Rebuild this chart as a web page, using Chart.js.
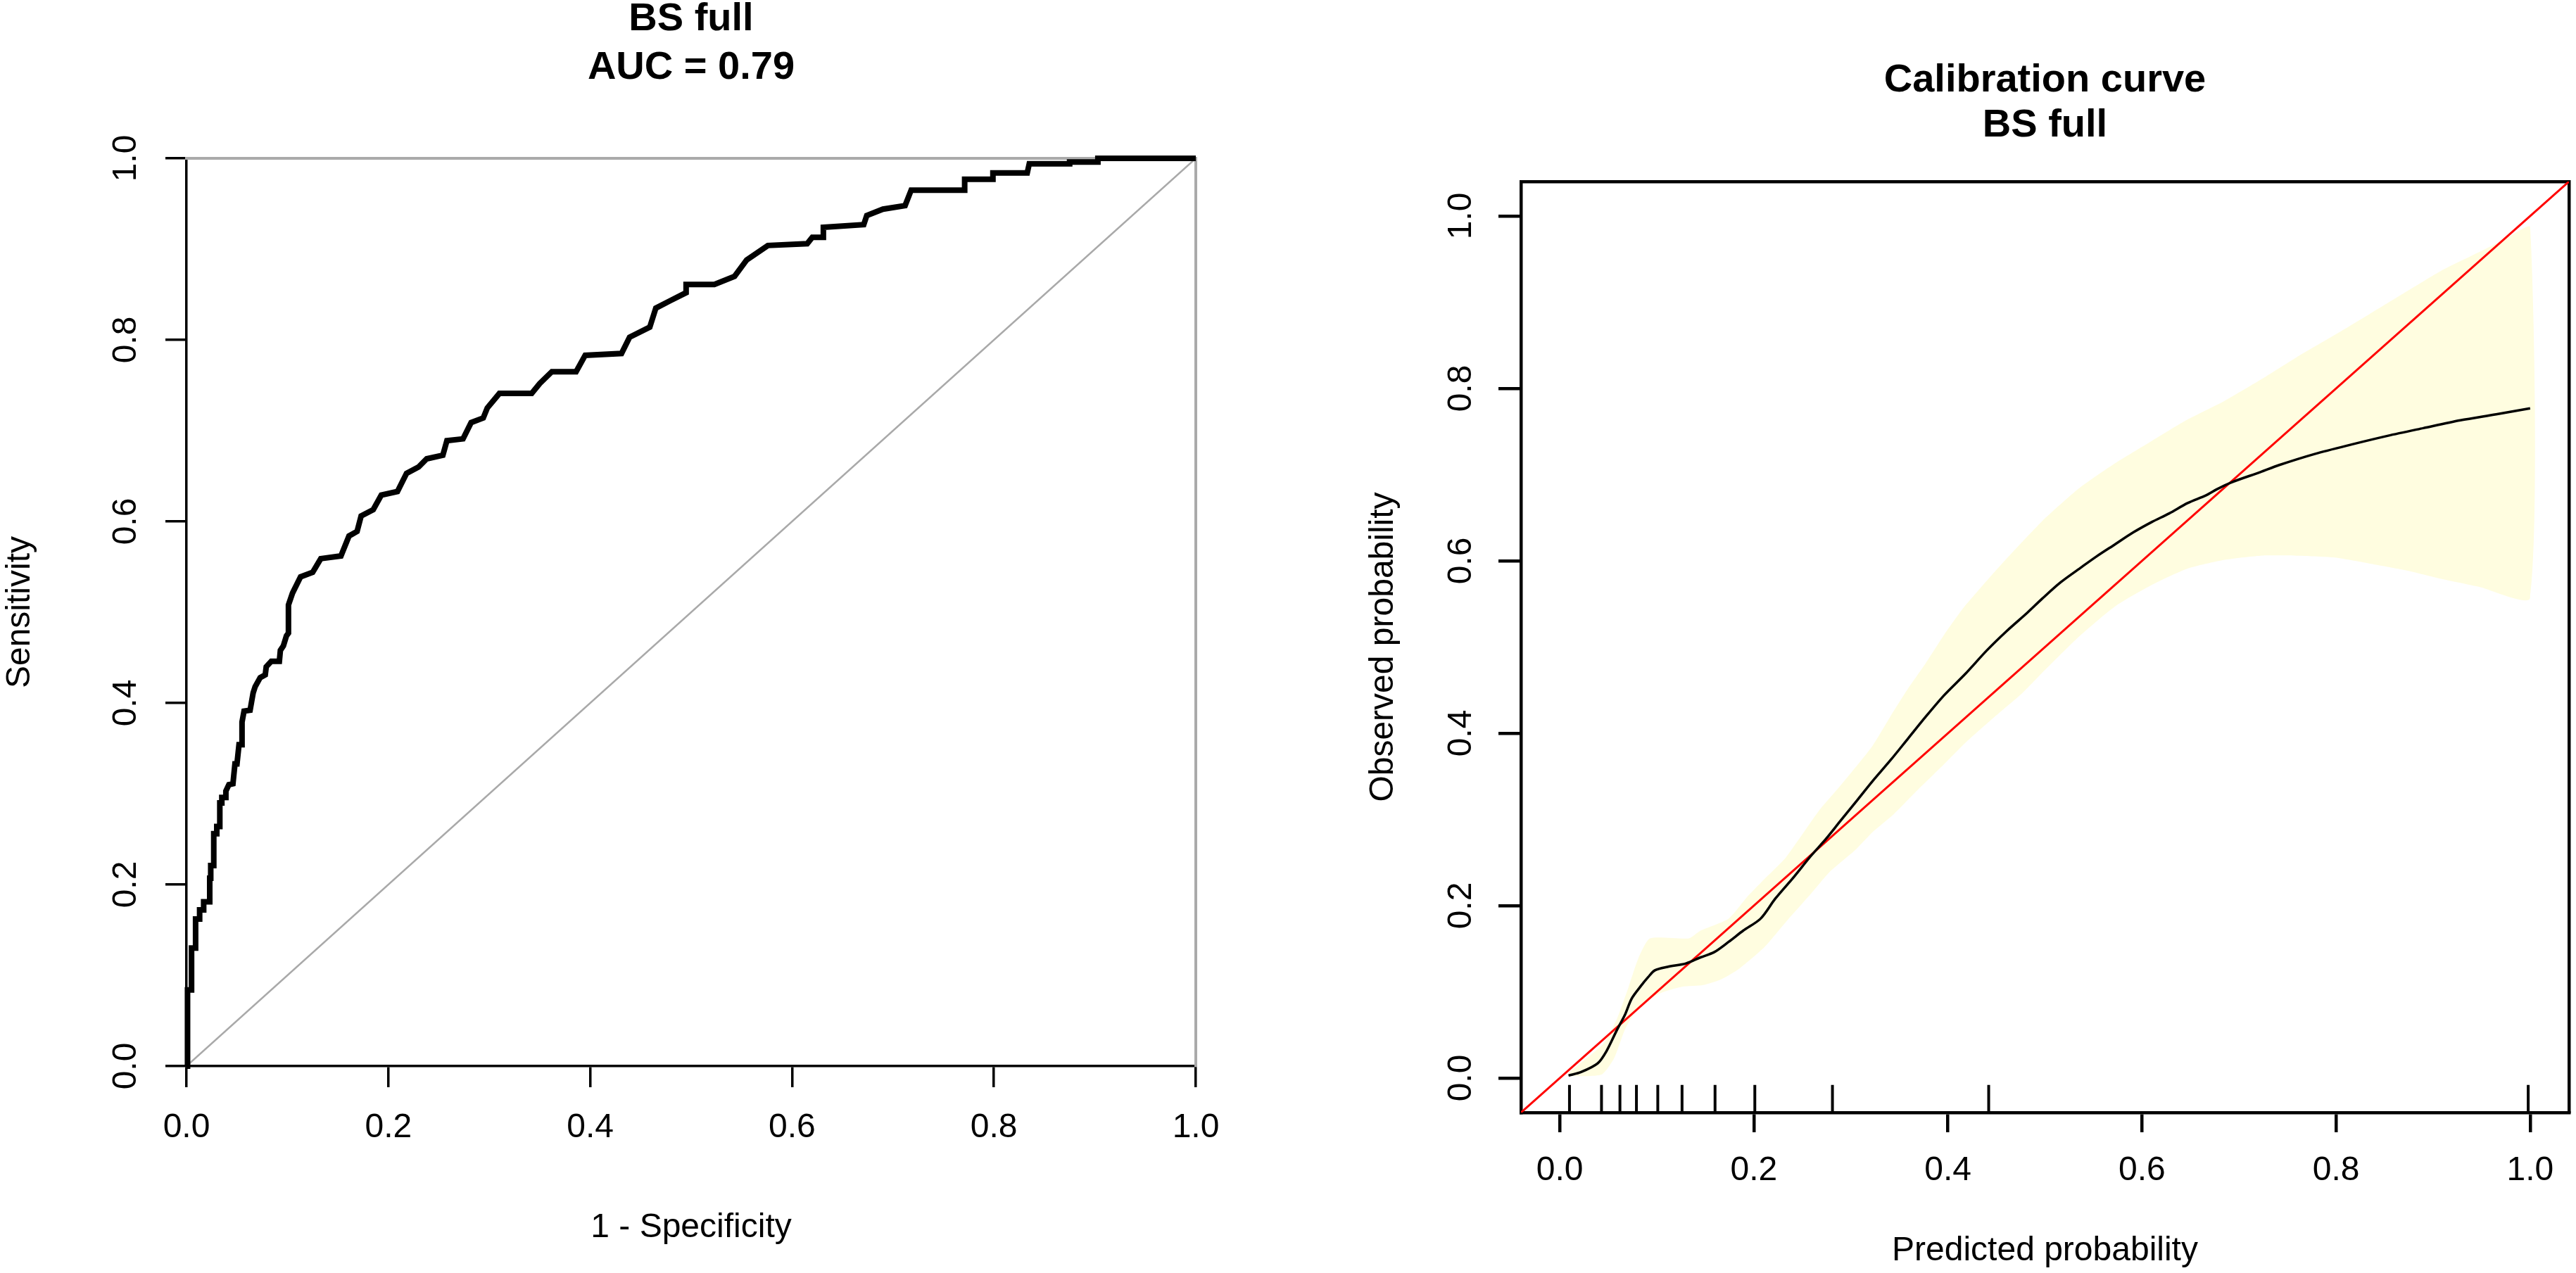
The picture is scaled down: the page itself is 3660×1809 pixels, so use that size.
<!DOCTYPE html>
<html>
<head>
<meta charset="utf-8">
<script src="https://cdn.jsdelivr.net/npm/chart.js@4.4.1/dist/chart.umd.min.js"></script>
<style>
    html, body { margin: 0; padding: 0; background: #fff; overflow: hidden; }
    body { width: 3660px; height: 1809px; position: relative; }
    canvas { position: absolute; }
    #roc-chart { left: 0; top: -10px; }
    #cal-chart { left: 1830px; top: 0; }
</style>
</head>
<body>
<canvas id="roc-chart" width="1830" height="1819"></canvas>
<canvas id="cal-chart" width="1830" height="1809"></canvas>
<script>
// ROC-кривая и калибровочная кривая

const tickValues = [0, 0.2, 0.4, 0.6, 0.8, 1.0];
const tickLabels = ['0.0', '0.2', '0.4', '0.6', '0.8', '1.0'];

// ===== ROC =====
const rocTitle = ['BS full', 'AUC = 0.79'];
// [1 - specificity, sensitivity]
const rocPoints = [
    [0, 0], [0.001, 0], [0.001, 0.084], [0.005, 0.084], [0.005, 0.130], [0.009, 0.130],
    [0.009, 0.162], [0.013, 0.162], [0.013, 0.172], [0.017, 0.172], [0.017, 0.181],
    [0.023, 0.181], [0.023, 0.207], [0.024, 0.207], [0.024, 0.221], [0.027, 0.221],
    [0.027, 0.256], [0.030, 0.256], [0.030, 0.264], [0.033, 0.264], [0.033, 0.290],
    [0.035, 0.290], [0.035, 0.296], [0.039, 0.296], [0.039, 0.303], [0.042, 0.310],
    [0.046, 0.311], [0.048, 0.333], [0.050, 0.333], [0.052, 0.354], [0.055, 0.354],
    [0.055, 0.379], [0.057, 0.391], [0.063, 0.392], [0.066, 0.411], [0.068, 0.418],
    [0.073, 0.428], [0.078, 0.431], [0.079, 0.440], [0.084, 0.446], [0.092, 0.446],
    [0.093, 0.458], [0.096, 0.463], [0.099, 0.474], [0.101, 0.477], [0.101, 0.508],
    [0.105, 0.521], [0.113, 0.539], [0.125, 0.544], [0.133, 0.559], [0.153, 0.562],
    [0.161, 0.584], [0.169, 0.589], [0.173, 0.606], [0.185, 0.613], [0.193, 0.629],
    [0.209, 0.633], [0.218, 0.653], [0.230, 0.660], [0.238, 0.669], [0.254, 0.673],
    [0.258, 0.689], [0.274, 0.691], [0.282, 0.709], [0.294, 0.714], [0.298, 0.725],
    [0.310, 0.741], [0.342, 0.741], [0.350, 0.752], [0.362, 0.765], [0.386, 0.765],
    [0.395, 0.783], [0.431, 0.785], [0.439, 0.803], [0.459, 0.814], [0.465, 0.835],
    [0.479, 0.843], [0.495, 0.852], [0.495, 0.861], [0.523, 0.861], [0.543, 0.870],
    [0.555, 0.888], [0.576, 0.904], [0.615, 0.906], [0.620, 0.913], [0.631, 0.913],
    [0.631, 0.924], [0.671, 0.927], [0.674, 0.937], [0.690, 0.944], [0.712, 0.948],
    [0.718, 0.965], [0.771, 0.965], [0.771, 0.977], [0.799, 0.977], [0.799, 0.984],
    [0.833, 0.984], [0.835, 0.994], [0.875, 0.994], [0.875, 0.996], [0.903, 0.996],
    [0.903, 1.0], [1.0, 1.0]
];
const rocDiagonal = [[0, 0], [1, 1]];

// ===== КАЛИБРОВКА =====
const calTitle = ['Calibration curve', 'BS full'];
const calRange = [-0.04, 1.04];
const calCurve = [
    [0.009, 0.003], [0.022, 0.007], [0.039, 0.017], [0.048, 0.031], [0.059, 0.056],
    [0.067, 0.073], [0.074, 0.092], [0.083, 0.106], [0.091, 0.117], [0.098, 0.125],
    [0.111, 0.129], [0.130, 0.133], [0.145, 0.140], [0.159, 0.146], [0.174, 0.158],
    [0.189, 0.171], [0.207, 0.185], [0.222, 0.208], [0.241, 0.233], [0.259, 0.258],
    [0.274, 0.277], [0.289, 0.298], [0.307, 0.323], [0.322, 0.344], [0.341, 0.369],
    [0.359, 0.394], [0.377, 0.419], [0.396, 0.444], [0.418, 0.469], [0.440, 0.496],
    [0.460, 0.518], [0.482, 0.540], [0.497, 0.556], [0.516, 0.575], [0.538, 0.593],
    [0.553, 0.605], [0.572, 0.619], [0.591, 0.633], [0.610, 0.645], [0.628, 0.655],
    [0.647, 0.667], [0.666, 0.676], [0.677, 0.683], [0.692, 0.691], [0.722, 0.703],
    [0.741, 0.711], [0.778, 0.724], [0.816, 0.735], [0.853, 0.745], [0.890, 0.754],
    [0.928, 0.763], [0.965, 0.770], [1.0, 0.777]
];
const calUpper = [
    [0.009, 0.006], [0.045, 0.040], [0.059, 0.069], [0.071, 0.106], [0.081, 0.139],
    [0.093, 0.162], [0.133, 0.162], [0.145, 0.171], [0.174, 0.185], [0.193, 0.210],
    [0.211, 0.231], [0.233, 0.256], [0.267, 0.310], [0.289, 0.339], [0.322, 0.385],
    [0.341, 0.420], [0.359, 0.452], [0.377, 0.481], [0.396, 0.514], [0.415, 0.544],
    [0.437, 0.573], [0.460, 0.602], [0.497, 0.646], [0.535, 0.684], [0.572, 0.713],
    [0.610, 0.739], [0.647, 0.764], [0.684, 0.785], [0.722, 0.810], [0.759, 0.836],
    [0.797, 0.861], [0.834, 0.886], [0.872, 0.912], [0.909, 0.937], [0.947, 0.958],
    [0.977, 0.975], [1.0, 0.987]
];
const calLower = [
    [0.009, 0.002], [0.043, 0.004], [0.056, 0.023], [0.067, 0.056], [0.078, 0.077],
    [0.093, 0.092], [0.107, 0.100], [0.126, 0.106], [0.148, 0.108], [0.167, 0.115],
    [0.185, 0.127], [0.211, 0.152], [0.233, 0.181], [0.259, 0.214], [0.278, 0.239],
    [0.304, 0.264], [0.322, 0.285], [0.344, 0.306], [0.366, 0.331], [0.396, 0.364],
    [0.418, 0.389], [0.448, 0.419], [0.477, 0.447], [0.497, 0.470], [0.535, 0.512],
    [0.572, 0.547], [0.610, 0.572], [0.647, 0.591], [0.684, 0.601], [0.722, 0.606],
    [0.759, 0.606], [0.797, 0.604], [0.834, 0.597], [0.872, 0.589], [0.909, 0.579],
    [0.947, 0.570], [1.0, 0.557]
];
const calDiagonal = [[-0.04, -0.04], [1.04, 1.04]];
// риски внизу графика
const rugX = [0.010, 0.043, 0.062, 0.079, 0.101, 0.126, 0.160, 0.201, 0.281, 0.442, 0.998];
const rugFrom = -0.04;
const rugTo = -0.008;

Chart.defaults.font.family = '"Liberation Sans", Arial, Helvetica, sans-serif';
Chart.defaults.color = '#000';

const toXY = arr => arr.map(p => ({ x: p[0], y: p[1] }));

// ===== ОСЬ С ДЕЛЕНИЯМИ =====
function tickAxis(o) {
    const isY = o.position === 'left';
    return {
        type: 'linear',
        position: o.position,
        min: o.min,
        max: o.max,
        afterBuildTicks: s => { s.ticks = tickValues.map(v => ({ value: v })); },
        afterFit: s => { if (isY) s.width = o.size; else s.height = o.size; },
        border: { display: true, color: '#000', width: o.lw },
        grid: {
            display: true,
            drawOnChartArea: false,
            drawTicks: true,
            tickLength: o.tick,
            color: '#000',
            lineWidth: o.lw
        },
        ticks: {
            font: { size: 48, lineHeight: 1.2 },
            padding: o.pad,
            autoSkip: false,
            minRotation: isY ? 90 : 0,
            maxRotation: isY ? 90 : 0,
            crossAlign: isY ? 'center' : 'near',
            callback: (v, i) => tickLabels[i]
        },
        title: {
            display: true,
            text: o.title,
            font: { size: 48, lineHeight: 1.2 },
            padding: o.titlePad
        }
    };
}

// ===== ЛИНИЯ РАМКИ (без делений) =====
function frameAxis(position, color, width, z) {
    const isY = position === 'right';
    return {
        type: 'linear',
        position: position,
        min: 0,
        max: 1,
        z: z,
        afterFit: s => { if (isY) s.width = 0; else s.height = 0; },
        border: { display: true, color: color, width: width },
        grid: { display: false, drawTicks: false },
        ticks: { display: false }
    };
}

// ===== ROC-ГРАФИК =====
new Chart(document.getElementById('roc-chart'), {
    type: 'line',
    data: {
        datasets: [
            {
                data: toXY(rocPoints),
                borderColor: '#000',
                borderWidth: 8,
                pointRadius: 0,
                tension: 0,
                order: 1,
                clip: 10
            },
            {
                data: toXY(rocDiagonal),
                borderColor: '#a9a9a9',
                borderWidth: 2.5,
                pointRadius: 0,
                order: 2
            }
        ]
    },
    options: {
        responsive: false,
        animation: false,
        events: [],
        layout: { padding: { left: 0, top: 0, right: 131, bottom: 0 } },
        plugins: {
            legend: { display: false },
            tooltip: { enabled: false },
            title: {
                display: true,
                text: rocTitle,
                fullSize: false,
                color: '#000',
                font: { size: 56, weight: 'bold', lineHeight: 69 / 56 },
                padding: { top: 3, bottom: 94 }
            }
        },
        scales: {
            x: tickAxis({ position: 'bottom', min: 0, max: 1, size: 294, lw: 3.5, tick: 30, pad: 29,
                title: '1 - Specificity', titlePad: { top: 0, bottom: 35 } }),
            y: tickAxis({ position: 'left', min: 0, max: 1, size: 265, lw: 3.5, tick: 30, pad: 22,
                title: 'Sensitivity', titlePad: { top: 0, bottom: 0 } }),
            x2: frameAxis('top', '#aaaaaa', 4, 1),
            y2: frameAxis('right', '#aaaaaa', 4, 1)
        }
    }
});

// ===== КАЛИБРОВОЧНЫЙ ГРАФИК =====
const bandShape = calUpper.concat(calLower.slice().reverse());
const rugData = [];
rugX.forEach(x => {
    rugData.push({ x: x, y: rugFrom }, { x: x, y: rugTo }, { x: x, y: null });
});

new Chart(document.getElementById('cal-chart'), {
    type: 'line',
    data: {
        datasets: [
            {
                data: toXY(calCurve),
                borderColor: '#000',
                borderWidth: 3.5,
                pointRadius: 0,
                tension: 0.3,
                order: 1
            },
            {
                data: rugData,
                borderColor: '#000',
                borderWidth: 4,
                pointRadius: 0,
                spanGaps: false,
                order: 1
            },
            {
                data: toXY(calDiagonal),
                borderColor: '#ff0000',
                borderWidth: 3,
                pointRadius: 0,
                order: 2
            },
            {
                data: toXY(bandShape),
                borderColor: 'rgba(0,0,0,0)',
                borderWidth: 0,
                backgroundColor: 'rgb(255, 253, 224)',
                fill: 'shape',
                pointRadius: 0,
                tension: 0.2,
                order: 4
            }
        ]
    },
    options: {
        responsive: false,
        animation: false,
        events: [],
        layout: { padding: { left: 0, top: 0, right: 10, bottom: 0 } },
        plugins: {
            legend: { display: false },
            tooltip: { enabled: false },
            title: {
                display: true,
                text: calTitle,
                fullSize: false,
                color: '#000',
                font: { size: 56, weight: 'bold', lineHeight: 64 / 56 },
                padding: { top: 83, bottom: 47 }
            }
        },
        scales: {
            x: tickAxis({ position: 'bottom', min: calRange[0], max: calRange[1], size: 228, lw: 4.5, tick: 28, pad: 26,
                title: 'Predicted probability', titlePad: { top: 0, bottom: 2 } }),
            y: tickAxis({ position: 'left', min: calRange[0], max: calRange[1], size: 331, lw: 4.5, tick: 32, pad: 19,
                title: 'Observed probability', titlePad: { top: 107, bottom: 0 } }),
            x2: frameAxis('top', '#000', 4.5, 1),
            y2: frameAxis('right', '#000', 4.5, 1)
        }
    }
});
</script>
</body>
</html>
